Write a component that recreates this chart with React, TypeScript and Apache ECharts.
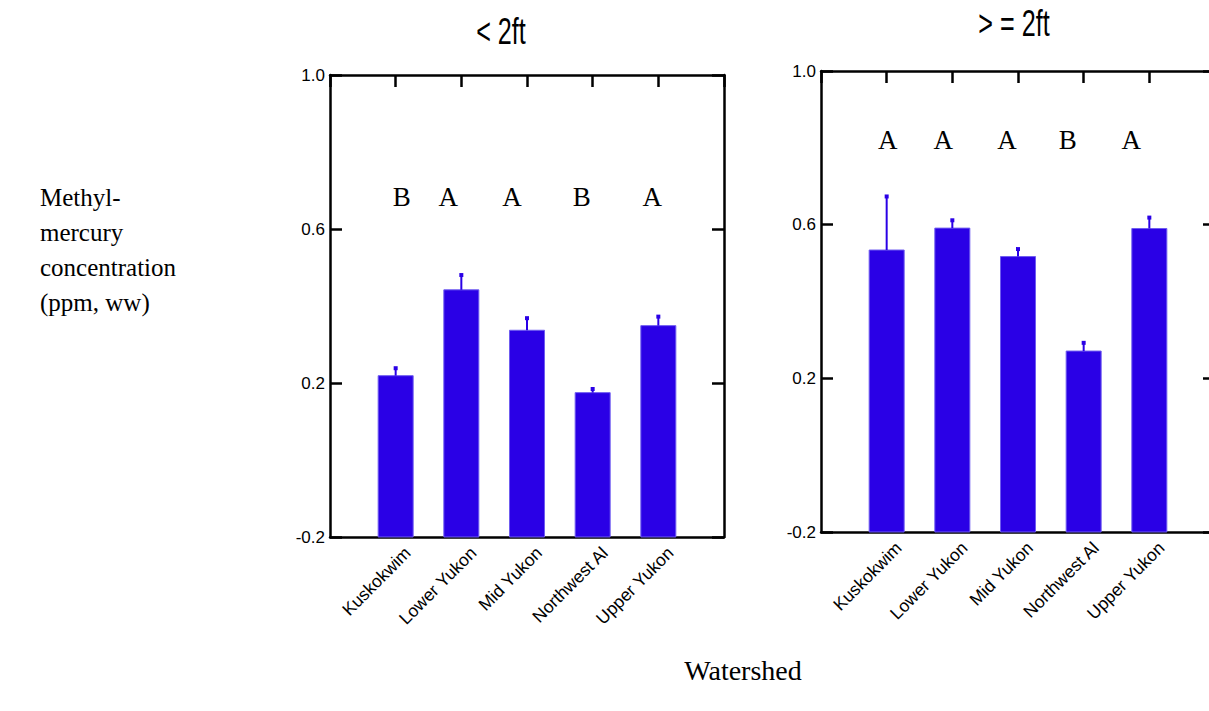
import React, { useEffect, useRef } from "react";
import * as echarts from "echarts";

const categories = ["Kuskokwim", "Lower Yukon", "Mid Yukon", "Northwest Al", "Upper Yukon"];
const smallMeans = [0.219, 0.442, 0.337, 0.175, 0.349];
const smallErrTop = [0.241, 0.483, 0.371, 0.187, 0.375];
const largeMeans = [0.534, 0.591, 0.517, 0.271, 0.590];
const largeErrTop = [0.676, 0.614, 0.539, 0.295, 0.621];
const smallLetters = ["B", "A", "A", "B", "A"];
const largeLetters = ["A", "A", "A", "B", "A"];
const smallLetterY = 0.684;
const largeLetterY = 0.82;
const panelTitles = ["< 2ft", "> = 2ft"];
const yMin = -0.2;
const yMax = 1.0;
const yInterval = 0.4;

const BLUE = "#2A00E6";
const SERIF = "'Liberation Serif', 'Times New Roman', serif";
const SANS = "'Liberation Sans', Arial, sans-serif";
const smallLetterDx = [6, -13, -15, -11, -6];
const largeLetterDx = [1, -9, -11, -16, -18];

const paddedCats = ["", ...categories, ""];

function barRender(params: any, api: any) {
  const x = api.value(0);
  const v = api.value(1);
  const e = api.value(2);
  const base = api.coord([x, yMin]);
  const top = api.coord([x, v]);
  const et = api.coord([x, e]);
  const w = 35;
  return {
    type: "group",
    children: [
      {
        type: "rect",
        shape: { x: base[0] - w / 2, y: top[1], width: w, height: base[1] - top[1] },
        style: { fill: BLUE, stroke: "#6f5cf0", lineWidth: 1 },
      },
      {
        type: "line",
        shape: { x1: top[0], y1: top[1], x2: et[0], y2: et[1] },
        style: { stroke: BLUE, lineWidth: 2 },
      },
      {
        type: "rect",
        shape: { x: et[0] - 2, y: et[1] - 1, width: 4, height: 4 },
        style: { fill: BLUE },
      },
    ],
  };
}

function letterRender(letters: string[], dx: number[]) {
  return (params: any, api: any) => {
    const c = api.coord([api.value(0), api.value(1)]);
    return {
      type: "text",
      x: c[0] + dx[params.dataIndex],
      y: c[1],
      style: {
        text: letters[params.dataIndex],
        fontSize: 27,
        fontFamily: SERIF,
        fill: "#000",
        align: "center",
        verticalAlign: "middle",
      },
    };
  };
}

function catLabelRender(params: any, api: any) {
  const c = api.coord([api.value(0), yMin]);
  return {
    type: "text",
    x: c[0] + 12,
    y: c[1] + 13,
    rotation: Math.PI / 4,
    style: {
      text: categories[params.dataIndex],
      fontSize: 17.5,
      fontFamily: SANS,
      fill: "#000",
      align: "right",
      verticalAlign: "middle",
    },
  };
}

function axesFor(gridIndex: number) {
  const line = { show: true, onZero: false, lineStyle: { color: "#000", width: 2.5 } };
  const xAxes = [
    {
      type: "category",
      gridIndex,
      data: paddedCats,
      boundaryGap: false,
      position: "bottom",
      axisLine: line,
      axisTick: { show: false },
      axisLabel: { show: false },
      splitLine: { show: false },
    },
    {
      type: "category",
      gridIndex,
      data: paddedCats,
      boundaryGap: false,
      position: "top",
      axisLine: line,
      axisTick: { show: true, inside: true, length: 12, interval: 0, lineStyle: { color: "#000", width: 2.5 } },
      axisLabel: { show: false },
      splitLine: { show: false },
    },
  ];
  const yAxes = [
    {
      type: "value",
      gridIndex,
      min: yMin,
      max: yMax,
      interval: yInterval,
      position: "left",
      axisLine: line,
      axisTick: { show: true, inside: true, length: 12, lineStyle: { color: "#000", width: 2.5 } },
      axisLabel: {
        fontSize: 17,
        fontFamily: SANS,
        color: "#000",
        margin: 5,
        formatter: (v: number) => v.toFixed(1),
      },
      splitLine: { show: false },
    },
    {
      type: "value",
      gridIndex,
      min: yMin,
      max: yMax,
      interval: yInterval,
      position: "right",
      axisLine: line,
      axisTick: { show: true, inside: true, length: 12, lineStyle: { color: "#000", width: 2.5 } },
      axisLabel: { show: false },
      splitLine: { show: false },
    },
  ];
  return { xAxes, yAxes };
}

export default function App() {
  const ref = useRef<HTMLDivElement>(null);
  useEffect(() => {
    if (!ref.current) return;
    const chart = echarts.init(ref.current, undefined, { renderer: "svg" });
    const a0 = axesFor(0);
    const a1 = axesFor(1);
    const option: any = {
      animation: false,
      backgroundColor: "#fff",
      grid: [
        { left: 330, top: 75, width: 394, height: 462, outerBoundsMode: "none", containLabel: false },
        { left: 821, top: 71, width: 394, height: 461, outerBoundsMode: "none", containLabel: false },
      ],
      xAxis: [...a0.xAxes, ...a1.xAxes],
      yAxis: [...a0.yAxes, ...a1.yAxes],
      series: [
        {
          type: "custom",
          xAxisIndex: 0,
          yAxisIndex: 0,
          renderItem: barRender,
          data: categories.map((_, i) => [i + 1, smallMeans[i], smallErrTop[i]]),
        },
        {
          type: "custom",
          xAxisIndex: 2,
          yAxisIndex: 2,
          renderItem: barRender,
          data: categories.map((_, i) => [i + 1, largeMeans[i], largeErrTop[i]]),
        },
        {
          type: "custom",
          xAxisIndex: 0,
          yAxisIndex: 0,
          renderItem: letterRender(smallLetters, smallLetterDx),
          data: smallLetters.map((_, i) => [i + 1, smallLetterY]),
        },
        {
          type: "custom",
          xAxisIndex: 2,
          yAxisIndex: 2,
          renderItem: letterRender(largeLetters, largeLetterDx),
          data: largeLetters.map((_, i) => [i + 1, largeLetterY]),
        },
        {
          type: "custom",
          xAxisIndex: 0,
          yAxisIndex: 0,
          clip: false,
          renderItem: catLabelRender,
          data: categories.map((_, i) => [i + 1, yMin]),
        },
        {
          type: "custom",
          xAxisIndex: 2,
          yAxisIndex: 2,
          clip: false,
          renderItem: catLabelRender,
          data: categories.map((_, i) => [i + 1, yMin]),
        },
      ],
      graphic: [
        {
          type: "text",
          x: 501,
          y: 31,
          scaleX: 0.68,
          style: { text: panelTitles[0], fontSize: 37, fontFamily: SANS, fill: "#000", align: "center", verticalAlign: "middle" },
        },
        {
          type: "text",
          x: 1014,
          y: 23,
          scaleX: 0.68,
          style: { text: panelTitles[1], fontSize: 37, fontFamily: SANS, fill: "#000", align: "center", verticalAlign: "middle" },
        },
        {
          type: "text",
          x: 40,
          y: 180,
          style: {
            text: "Methyl-\nmercury\nconcentration\n(ppm, ww)",
            fontSize: 25,
            lineHeight: 35,
            fontFamily: SERIF,
            fill: "#000",
            align: "left",
            verticalAlign: "top",
          },
        },
        {
          type: "text",
          x: 743,
          y: 670,
          style: { text: "Watershed", fontSize: 28, fontFamily: SERIF, fill: "#000", align: "center", verticalAlign: "middle" },
        },
      ],
    };
    chart.setOption(option);
    return () => chart.dispose();
  }, []);
  return (
    <div
      ref={ref}
      style={{ position: "absolute", left: 0, top: 0, width: 1209, height: 711, overflow: "hidden" }}
    />
  );
}
